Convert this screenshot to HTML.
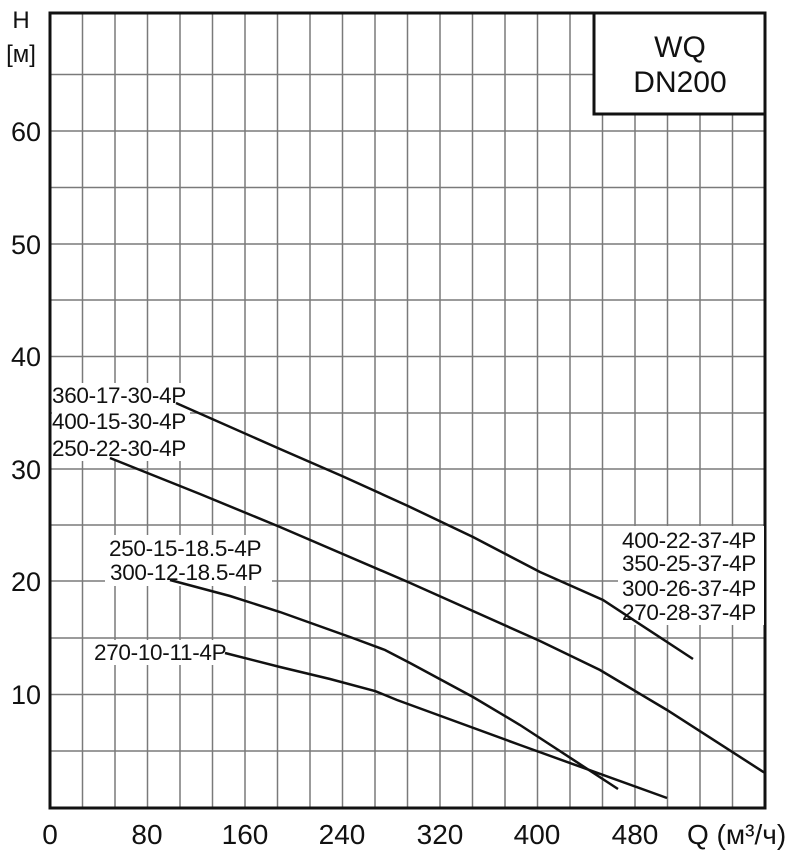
<!DOCTYPE html>
<html><head><meta charset="utf-8"><style>
html,body{margin:0;padding:0;background:#fff;}
svg{display:block;}
text{font-family:"Liberation Sans",Arial,sans-serif;fill:#111;}
</style></head><body>
<svg width="802" height="855" viewBox="0 0 802 855" xmlns="http://www.w3.org/2000/svg">
<g stroke="#7a7a7a" stroke-width="1.5">
<line x1="82.5" y1="13" x2="82.5" y2="808"/><line x1="115" y1="13" x2="115" y2="808"/><line x1="147.5" y1="13" x2="147.5" y2="808"/><line x1="180" y1="13" x2="180" y2="808"/><line x1="212.5" y1="13" x2="212.5" y2="808"/><line x1="245" y1="13" x2="245" y2="808"/><line x1="277.5" y1="13" x2="277.5" y2="808"/><line x1="310" y1="13" x2="310" y2="808"/><line x1="342.5" y1="13" x2="342.5" y2="808"/><line x1="375" y1="13" x2="375" y2="808"/><line x1="407.5" y1="13" x2="407.5" y2="808"/><line x1="440" y1="13" x2="440" y2="808"/><line x1="472.5" y1="13" x2="472.5" y2="808"/><line x1="505" y1="13" x2="505" y2="808"/><line x1="537.5" y1="13" x2="537.5" y2="808"/><line x1="570" y1="13" x2="570" y2="808"/><line x1="602.5" y1="13" x2="602.5" y2="808"/><line x1="635" y1="13" x2="635" y2="808"/><line x1="667.5" y1="13" x2="667.5" y2="808"/><line x1="700" y1="13" x2="700" y2="808"/><line x1="732.5" y1="13" x2="732.5" y2="808"/>
<line x1="50" y1="74.5" x2="765" y2="74.5"/><line x1="50" y1="131" x2="765" y2="131"/><line x1="50" y1="187.5" x2="765" y2="187.5"/><line x1="50" y1="244" x2="765" y2="244"/><line x1="50" y1="300" x2="765" y2="300"/><line x1="50" y1="356.5" x2="765" y2="356.5"/><line x1="50" y1="413" x2="765" y2="413"/><line x1="50" y1="469" x2="765" y2="469"/><line x1="50" y1="525" x2="765" y2="525"/><line x1="50" y1="581" x2="765" y2="581"/><line x1="50" y1="638" x2="765" y2="638"/><line x1="50" y1="694.5" x2="765" y2="694.5"/><line x1="50" y1="751" x2="765" y2="751"/>
</g>
<rect x="594" y="13" width="171" height="101" fill="#fff" stroke="#111" stroke-width="3"/>
<text x="680" y="57" font-size="30" text-anchor="middle">WQ</text>
<text x="680" y="92" font-size="30" text-anchor="middle">DN200</text>
<rect x="50" y="13" width="715" height="795" fill="none" stroke="#111" stroke-width="3"/>
<g fill="#fff">
<rect x="52" y="383" width="138" height="78"/>
<rect x="105" y="535" width="167" height="51"/>
<rect x="91" y="640" width="141" height="25"/>
<rect x="618" y="526" width="146" height="99"/>
</g>
<g fill="none" stroke="#111" stroke-width="2.5">
<polyline points="176,403 280,449 342,476 408,506 473,537 540,572 603,600 693,659"/>
<polyline points="110,458 200,494 280,527 408,582 540,641 600,670 667,710 765,773"/>
<polyline points="170,580 230,596 280,612 350,637 385,650 410,663 473,697 520,725 618,789"/>
<polyline points="225,653 280,667 330,679 375,691 397,700 520,745 667,798"/>
</g>
<g font-size="22.5" letter-spacing="-0.3">
<text x="52" y="403">360-17-30-4P</text>
<text x="52" y="429">400-15-30-4P</text>
<text x="52" y="456">250-22-30-4P</text>
<text x="109" y="556">250-15-18.5-4P</text>
<text x="110" y="580">300-12-18.5-4P</text>
<text x="94" y="660">270-10-11-4P</text>
<text x="622" y="548">400-22-37-4P</text>
<text x="622" y="571">350-25-37-4P</text>
<text x="622" y="596">300-26-37-4P</text>
<text x="622" y="620">270-28-37-4P</text>
</g>
<g font-size="27" text-anchor="end">
<text x="41" y="141">60</text>
<text x="41" y="254">50</text>
<text x="41" y="366">40</text>
<text x="41" y="479">30</text>
<text x="41" y="591">20</text>
<text x="41" y="704">10</text>
</g>
<text x="21" y="28" font-size="24" text-anchor="middle">H</text>
<text x="21" y="62" font-size="24" text-anchor="middle">[м]</text>
<g font-size="28" text-anchor="middle">
<text x="50" y="844">0</text>
<text x="147" y="844">80</text>
<text x="245" y="844">160</text>
<text x="342" y="844">240</text>
<text x="440" y="844">320</text>
<text x="537" y="844">400</text>
<text x="635" y="844">480</text>
</g>
<text x="687" y="844" font-size="28">Q (м³/ч)</text>
</svg>
</body></html>
